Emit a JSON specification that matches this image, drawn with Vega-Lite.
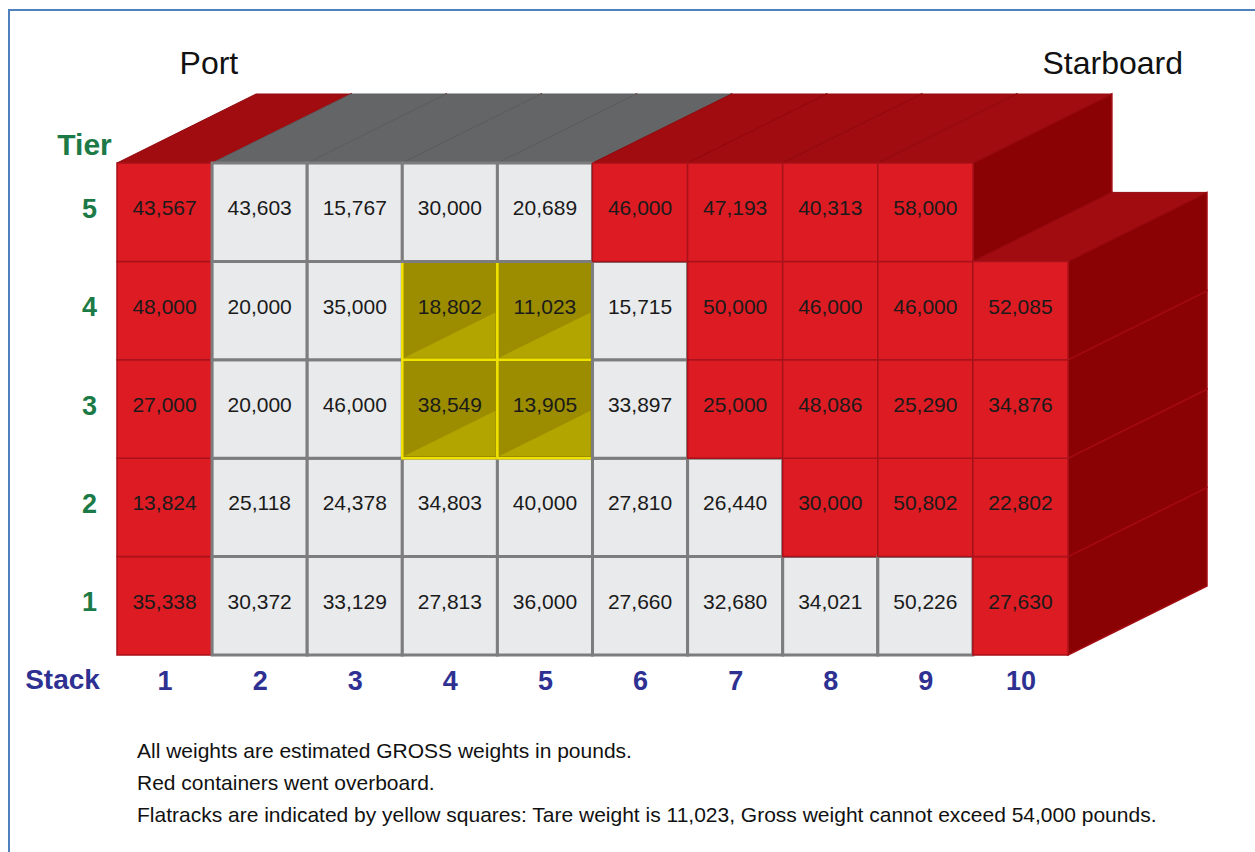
{
  "$schema": "https://vega.github.io/schema/vega-lite/v6.json",
  "width": 1246,
  "height": 842,
  "autosize": {"type": "none"},
  "padding": {"left": 9, "top": 10, "right": 0, "bottom": 0},
  "background": "white",
  "config": {"view": {"stroke": "#4f81bd", "strokeWidth": 2, "strokeDash": [1246, 2088, 842, 10]}},
  "datasets": {"containers": [
    {"stack": 1, "tier": 1, "weight": 35338, "status": "overboard"},
    {"stack": 1, "tier": 2, "weight": 13824, "status": "overboard"},
    {"stack": 1, "tier": 3, "weight": 27000, "status": "overboard"},
    {"stack": 1, "tier": 4, "weight": 48000, "status": "overboard"},
    {"stack": 1, "tier": 5, "weight": 43567, "status": "overboard"},
    {"stack": 2, "tier": 1, "weight": 30372, "status": "onboard"},
    {"stack": 2, "tier": 2, "weight": 25118, "status": "onboard"},
    {"stack": 2, "tier": 3, "weight": 20000, "status": "onboard"},
    {"stack": 2, "tier": 4, "weight": 20000, "status": "onboard"},
    {"stack": 2, "tier": 5, "weight": 43603, "status": "onboard"},
    {"stack": 3, "tier": 1, "weight": 33129, "status": "onboard"},
    {"stack": 3, "tier": 2, "weight": 24378, "status": "onboard"},
    {"stack": 3, "tier": 3, "weight": 46000, "status": "onboard"},
    {"stack": 3, "tier": 4, "weight": 35000, "status": "onboard"},
    {"stack": 3, "tier": 5, "weight": 15767, "status": "onboard"},
    {"stack": 4, "tier": 1, "weight": 27813, "status": "onboard"},
    {"stack": 4, "tier": 2, "weight": 34803, "status": "onboard"},
    {"stack": 4, "tier": 3, "weight": 38549, "status": "flatrack"},
    {"stack": 4, "tier": 4, "weight": 18802, "status": "flatrack"},
    {"stack": 4, "tier": 5, "weight": 30000, "status": "onboard"},
    {"stack": 5, "tier": 1, "weight": 36000, "status": "onboard"},
    {"stack": 5, "tier": 2, "weight": 40000, "status": "onboard"},
    {"stack": 5, "tier": 3, "weight": 13905, "status": "flatrack"},
    {"stack": 5, "tier": 4, "weight": 11023, "status": "flatrack"},
    {"stack": 5, "tier": 5, "weight": 20689, "status": "onboard"},
    {"stack": 6, "tier": 1, "weight": 27660, "status": "onboard"},
    {"stack": 6, "tier": 2, "weight": 27810, "status": "onboard"},
    {"stack": 6, "tier": 3, "weight": 33897, "status": "onboard"},
    {"stack": 6, "tier": 4, "weight": 15715, "status": "onboard"},
    {"stack": 6, "tier": 5, "weight": 46000, "status": "overboard"},
    {"stack": 7, "tier": 1, "weight": 32680, "status": "onboard"},
    {"stack": 7, "tier": 2, "weight": 26440, "status": "onboard"},
    {"stack": 7, "tier": 3, "weight": 25000, "status": "overboard"},
    {"stack": 7, "tier": 4, "weight": 50000, "status": "overboard"},
    {"stack": 7, "tier": 5, "weight": 47193, "status": "overboard"},
    {"stack": 8, "tier": 1, "weight": 34021, "status": "onboard"},
    {"stack": 8, "tier": 2, "weight": 30000, "status": "overboard"},
    {"stack": 8, "tier": 3, "weight": 48086, "status": "overboard"},
    {"stack": 8, "tier": 4, "weight": 46000, "status": "overboard"},
    {"stack": 8, "tier": 5, "weight": 40313, "status": "overboard"},
    {"stack": 9, "tier": 1, "weight": 50226, "status": "onboard"},
    {"stack": 9, "tier": 2, "weight": 50802, "status": "overboard"},
    {"stack": 9, "tier": 3, "weight": 25290, "status": "overboard"},
    {"stack": 9, "tier": 4, "weight": 46000, "status": "overboard"},
    {"stack": 9, "tier": 5, "weight": 58000, "status": "overboard"},
    {"stack": 10, "tier": 1, "weight": 27630, "status": "overboard"},
    {"stack": 10, "tier": 2, "weight": 22802, "status": "overboard"},
    {"stack": 10, "tier": 3, "weight": 34876, "status": "overboard"},
    {"stack": 10, "tier": 4, "weight": 52085, "status": "overboard"}
  ],
  "sides": [{"side": "Port"}, {"side": "Starboard"}],
  "notes": [{"note": "notes"}]},
  "layer": [
    {
      "data": {"name": "containers"},
      "encoding": {
        "x": {
          "field": "stack", "type": "quantitative",
          "scale": {"domain": [0.5, 10.5], "range": [108, 1059], "nice": false, "zero": false},
          "axis": {
            "values": [1, 2, 3, 4, 5, 6, 7, 8, 9, 10], "format": "d", "orient": "bottom", "offset": -197,
            "domain": false, "ticks": false, "tickSize": 0, "grid": false, "labelFlush": false, "labelOverlap": false,
            "labelFont": "Liberation Sans", "labelFontSize": 27, "labelFontWeight": "bold",
            "labelColor": "#2e3192", "labelBaseline": "middle", "labelPadding": 26,
            "title": "Stack", "titleX": 53, "titleY": 25, "titleAlign": "center", "titleBaseline": "middle",
            "titleFont": "Liberation Sans", "titleFontSize": 28, "titleFontWeight": "bold", "titleColor": "#2e3192"
          }
        },
        "y": {
          "field": "tier", "type": "quantitative",
          "scale": {"domain": [0.5, 5.5], "range": [645, 153], "nice": false, "zero": false},
          "axis": {
            "values": [1, 2, 3, 4, 5], "format": "d", "orient": "left", "offset": -80,
            "domain": false, "ticks": false, "tickSize": 0, "grid": false, "labelFlush": false, "labelOverlap": false,
            "labelFont": "Liberation Sans", "labelFontSize": 27, "labelFontWeight": "bold",
            "labelColor": "#1b7a45", "labelAlign": "center", "labelBaseline": "middle", "labelPadding": 0, "labelOffset": -3,
            "title": "Tier", "titleX": -5, "titleY": 135, "titleAngle": 0, "titleAlign": "center", "titleBaseline": "middle",
            "titleFont": "Liberation Sans", "titleFontSize": 30, "titleFontWeight": "bold", "titleColor": "#1b7a45"
          }
        }
      },
      "layer": [
        {
          "mark": {"type": "point", "shape": "M0.9906,-1.025L3.8864,-2.4625L3.8864,-0.4125L0.9906,1.025Z", "size": 9216, "filled": true, "opacity": 1, "fill": "#8b0204", "stroke": "#a30b10", "strokeWidth": 1.5}
        },
        {
          "transform": [{"filter": "datum.tier == 5 || (datum.stack == 10 && datum.tier == 4)"}],
          "mark": {"type": "point", "shape": "M-0.9906,-1.025L0.9906,-1.025L3.8864,-2.4625L1.9052,-2.4625Z", "size": 9216, "filled": true, "opacity": 1, "strokeWidth": 1},
          "encoding": {
            "fill": {"condition": {"test": "datum.status === 'overboard'", "value": "#a00c10"}, "value": "#646567"},
            "stroke": {"condition": {"test": "datum.status === 'overboard'", "value": "#920a0e"}, "value": "#5d5e60"}
          }
        },
        {
          "mark": {"type": "point", "shape": "M-0.9906,-1.025L0.9906,-1.025L0.9906,1.025L-0.9906,1.025Z", "size": 9216, "filled": true, "opacity": 1},
          "encoding": {
            "fill": {"condition": [{"test": "datum.status === 'overboard'", "value": "#dc1b23"}, {"test": "datum.status === 'flatrack'", "value": "#9b8c00"}], "value": "#e9eaec"},
            "stroke": {"condition": [{"test": "datum.status === 'overboard'", "value": "#a8121a"}, {"test": "datum.status === 'flatrack'", "value": "#f0e200"}], "value": "#7d7d7d"},
            "strokeWidth": {"condition": [{"test": "datum.status === 'overboard'", "value": 1.5}, {"test": "datum.status === 'flatrack'", "value": 2.5}], "value": 3}
          }
        },
        {
          "transform": [{"filter": "datum.status === 'flatrack'"}],
          "mark": {"type": "point", "shape": "M-0.95,0.98L0.95,0.98L0.95,0.0375Z", "size": 9216, "filled": true, "opacity": 1, "fill": "#b3a500", "strokeWidth": 0}
        },
        {
          "mark": {"type": "text", "font": "Liberation Sans", "fontSize": 21, "color": "#1a1a1a", "baseline": "alphabetic", "align": "center", "dy": 3},
          "encoding": {"text": {"field": "weight", "type": "quantitative", "format": ",d"}}
        }
      ]
    },
    {
      "data": {"name": "sides"},
      "transform": [{"filter": "datum.side === 'Port'"}],
      "mark": {"type": "text", "font": "Liberation Sans", "fontSize": 32, "color": "#111111", "align": "left", "baseline": "alphabetic", "dx": 15, "dy": -138},
      "encoding": {"x": {"datum": 1, "type": "quantitative"}, "y": {"datum": 5, "type": "quantitative"}, "text": {"field": "side", "type": "nominal"}}
    },
    {
      "data": {"name": "sides"},
      "transform": [{"filter": "datum.side === 'Starboard'"}],
      "mark": {"type": "text", "font": "Liberation Sans", "fontSize": 32, "color": "#111111", "align": "left", "baseline": "alphabetic", "dx": 22, "dy": -138},
      "encoding": {"x": {"datum": 10, "type": "quantitative"}, "y": {"datum": 5, "type": "quantitative"}, "text": {"field": "side", "type": "nominal"}}
    },
    {
      "data": {"name": "notes"},
      "mark": {"type": "text", "font": "Liberation Sans", "fontSize": 21, "color": "#111111", "align": "left", "baseline": "alphabetic", "dx": 20, "dy": 103,
        "text": ["All weights are estimated GROSS weights in pounds.", "Red containers went overboard.", "Flatracks are indicated by yellow squares: Tare weight is 11,023, Gross weight cannot exceed 54,000 pounds."],
        "lineHeight": 32},
      "encoding": {"x": {"datum": 0.5, "type": "quantitative"}, "y": {"datum": 0.5, "type": "quantitative"}}
    }
  ]
}
